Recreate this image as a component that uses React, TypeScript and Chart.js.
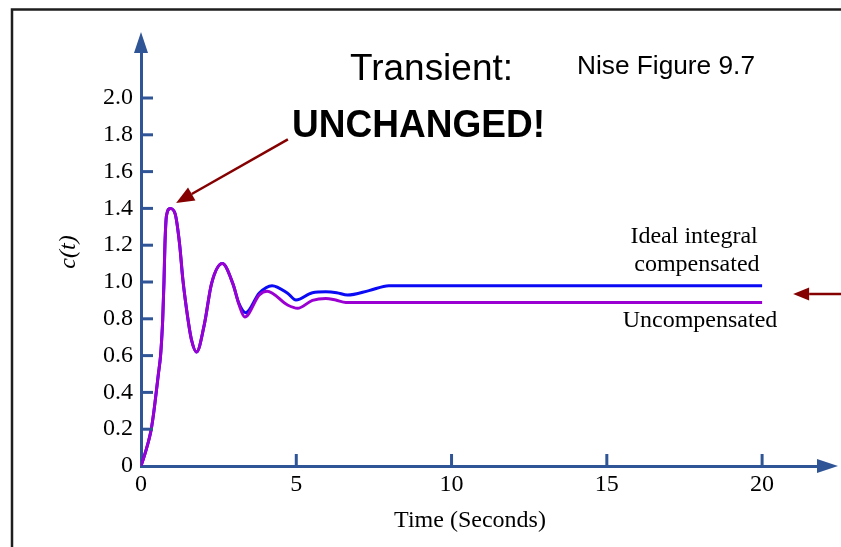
import React, { useEffect, useRef } from 'react';
import { Chart, registerables } from 'chart.js';

Chart.register(...registerables);

// ---- data ----
const xTickValues = [0, 5, 10, 15, 20];
const yTickValues = [0, 0.2, 0.4, 0.6, 0.8, 1.0, 1.2, 1.4, 1.6, 1.8, 2.0];

const timeUncomp = [0, 0.08, 0.17, 0.25, 0.33, 0.41, 0.49, 0.56, 0.63, 0.67, 0.70, 0.74, 0.77, 0.82, 0.94, 1.10, 1.24, 1.35, 1.51, 1.62, 1.79, 2.04, 2.27, 2.62, 2.96, 3.15, 3.34, 3.81, 4.06, 4.72, 5.04, 5.52, 5.95, 6.27, 6.6, 20];
const respUncomp = [0, 0.04, 0.09, 0.14, 0.20, 0.29, 0.40, 0.50, 0.60, 0.70, 0.80, 1.00, 1.20, 1.36, 1.40, 1.37, 1.21, 1.01, 0.80, 0.69, 0.62, 0.77, 0.99, 1.10, 0.99, 0.88, 0.81, 0.93, 0.95, 0.875, 0.857, 0.90, 0.911, 0.902, 0.889, 0.889];

const timeComp = [0, 0.08, 0.17, 0.25, 0.33, 0.41, 0.49, 0.56, 0.63, 0.67, 0.70, 0.74, 0.77, 0.82, 0.94, 1.10, 1.24, 1.35, 1.51, 1.62, 1.79, 2.04, 2.27, 2.62, 2.96, 3.15, 3.37, 3.81, 4.22, 4.72, 4.99, 5.52, 5.95, 6.3, 6.65, 7.34, 7.98, 20];
const respComp = [0, 0.04, 0.09, 0.14, 0.20, 0.29, 0.40, 0.50, 0.60, 0.70, 0.80, 1.00, 1.20, 1.36, 1.40, 1.37, 1.21, 1.01, 0.80, 0.69, 0.62, 0.77, 0.99, 1.10, 0.99, 0.885, 0.833, 0.94, 0.98, 0.939, 0.902, 0.942, 0.947, 0.942, 0.929, 0.953, 0.98, 0.98];

const seriesLabels = ['Uncompensated', 'Ideal integral compensated'];

const AXIS = '#2f5597';
const BLUE = '#0a0af5';
const PURPLE = '#9a00d2';
const RED = '#850000';
const SERIF = "'Liberation Serif', 'Times New Roman', serif";
const SANS = "'Liberation Sans', Arial, sans-serif";

function arrow(ctx: CanvasRenderingContext2D, x1: number, y1: number, x2: number, y2: number, headLen: number, headHalf: number, color: string, lw: number) {
  const ang = Math.atan2(y2 - y1, x2 - x1);
  const bx = x2 - headLen * Math.cos(ang);
  const by = y2 - headLen * Math.sin(ang);
  ctx.strokeStyle = color;
  ctx.fillStyle = color;
  ctx.lineWidth = lw;
  ctx.beginPath();
  ctx.moveTo(x1, y1);
  ctx.lineTo(bx, by);
  ctx.stroke();
  const nx = -Math.sin(ang), ny = Math.cos(ang);
  ctx.beginPath();
  ctx.moveTo(x2, y2);
  ctx.lineTo(bx + nx * headHalf, by + ny * headHalf);
  ctx.lineTo(bx - nx * headHalf, by - ny * headHalf);
  ctx.closePath();
  ctx.fill();
}

function fitText(ctx: CanvasRenderingContext2D, text: string, x: number, y: number, font: string, width: number) {
  ctx.save();
  ctx.font = font;
  ctx.textAlign = 'left';
  ctx.textBaseline = 'alphabetic';
  const w = ctx.measureText(text).width;
  const s = width / w;
  ctx.translate(x, y);
  ctx.scale(s, 1);
  ctx.fillText(text, 0, 0);
  ctx.restore();
}

const overlay = {
  id: 'overlay',
  afterDraw(chart: any) {
    const ctx: CanvasRenderingContext2D = chart.ctx;
    const xs = chart.scales.x;
    const ys = chart.scales.y;
    const area = chart.chartArea;
    const X = (v: number) => xs.getPixelForValue(v);
    const Y = (v: number) => ys.getPixelForValue(v);
    const x0 = X(0), y0 = Y(0);
    ctx.save();

    // frame
    ctx.strokeStyle = '#1e1e1e';
    ctx.lineWidth = 2.5;
    ctx.beginPath();
    ctx.moveTo(12, chart.height);
    ctx.lineTo(12, 9.5);
    ctx.lineTo(chart.width, 9.5);
    ctx.stroke();

    // inward ticks
    ctx.strokeStyle = AXIS;
    ctx.lineWidth = 3;
    yTickValues.filter(v => v > 0).forEach(v => {
      const p = Y(v);
      ctx.beginPath(); ctx.moveTo(x0, p); ctx.lineTo(x0 + 12, p); ctx.stroke();
    });
    xTickValues.filter(v => v > 0).forEach(v => {
      const p = X(v);
      ctx.beginPath(); ctx.moveTo(p, y0); ctx.lineTo(p, y0 - 12); ctx.stroke();
    });

    // axis arrowheads
    ctx.fillStyle = AXIS;
    ctx.beginPath();
    ctx.moveTo(x0, area.top - 20);
    ctx.lineTo(x0 - 7, area.top + 1);
    ctx.lineTo(x0 + 7, area.top + 1);
    ctx.closePath(); ctx.fill();
    ctx.beginPath();
    ctx.moveTo(area.right + 20, y0);
    ctx.lineTo(area.right - 1, y0 - 7);
    ctx.lineTo(area.right - 1, y0 + 7);
    ctx.closePath(); ctx.fill();

    // red arrows
    arrow(ctx, X(4.73), Y(1.775), X(1.13), Y(1.43), 18, 7.5, RED, 2.5);
    arrow(ctx, chart.width + 2, Y(0.935), X(21.0), Y(0.935), 16, 6.5, RED, 2.5);

    // titles
    ctx.fillStyle = '#000';
    fitText(ctx, 'Transient:', 350, 80, `37px ${SANS}`, 163);
    fitText(ctx, 'UNCHANGED!', 292, 137, `bold 39px ${SANS}`, 253);
    fitText(ctx, 'Nise Figure 9.7', 577, 74, `26px ${SANS}`, 178);

    // line labels
    ctx.font = `24px ${SERIF}`;
    ctx.textAlign = 'center';
    ctx.textBaseline = 'alphabetic';
    ctx.fillText('Ideal integral', X(17.81), Y(1.212));
    ctx.fillText('compensated', X(17.9), Y(1.06));
    ctx.fillText('Uncompensated', X(18.0), Y(0.755));

    // axis titles
    ctx.fillText('Time (Seconds)', 470, 527);
    ctx.save();
    ctx.translate(69, 252);
    ctx.rotate(-Math.PI / 2);
    ctx.font = `italic 24px ${SERIF}`;
    ctx.textBaseline = 'middle';
    ctx.fillText('c(t)', 0, 0);
    ctx.restore();

    ctx.restore();
  },
};

export default function App() {
  const ref = useRef<HTMLCanvasElement>(null);
  useEffect(() => {
    const tickFont = { family: SERIF, size: 24 };
    const chart = new Chart(ref.current as HTMLCanvasElement, {
      type: 'line',
      data: {
        datasets: [
          {
            label: seriesLabels[0],
            data: timeUncomp.map((t, i) => ({ x: t, y: respUncomp[i] })),
            borderColor: PURPLE,
            borderWidth: 3,
            pointRadius: 0,
            cubicInterpolationMode: 'monotone',
            fill: false,
          },
          {
            label: seriesLabels[1],
            data: timeComp.map((t, i) => ({ x: t, y: respComp[i] })),
            borderColor: BLUE,
            borderWidth: 3,
            pointRadius: 0,
            cubicInterpolationMode: 'monotone',
            fill: false,
          },
        ],
      },
      options: {
        animation: false,
        responsive: false,
        events: [],
        layout: { padding: { left: 0, top: 52, right: 23, bottom: 0 } },
        plugins: { legend: { display: false }, tooltip: { enabled: false } },
        scales: {
          x: {
            type: 'linear',
            min: 0,
            max: 21.8,
            afterFit: (s: any) => { s.height = 81; },
            afterBuildTicks: (s: any) => { s.ticks = xTickValues.map(v => ({ value: v })); },
            grid: { display: false, drawTicks: false },
            border: { display: true, color: AXIS, width: 3 },
            ticks: {
              font: tickFont,
              color: '#000',
              padding: 4,
              maxRotation: 0,
              autoSkip: false,
              callback: (v: any) => String(v),
            },
          },
          y: {
            type: 'linear',
            min: 0,
            max: 2.25,
            afterFit: (s: any) => { s.width = 141; },
            afterBuildTicks: (s: any) => { s.ticks = yTickValues.map(v => ({ value: v })); },
            grid: { display: false, drawTicks: false },
            border: { display: true, color: AXIS, width: 3 },
            ticks: {
              font: tickFont,
              color: '#000',
              padding: 8,
              autoSkip: false,
              callback: (v: any) => (Number(v) === 0 ? '0' : Number(v).toFixed(1)),
            },
          },
        },
      } as any,
      plugins: [overlay],
    });
    return () => chart.destroy();
  }, []);
  return (
    <div style={{ position: 'fixed', left: 0, top: 0, width: 841, height: 547, background: '#fff' }}>
      <canvas ref={ref} width={841} height={547} style={{ display: 'block' }} />
    </div>
  );
}
